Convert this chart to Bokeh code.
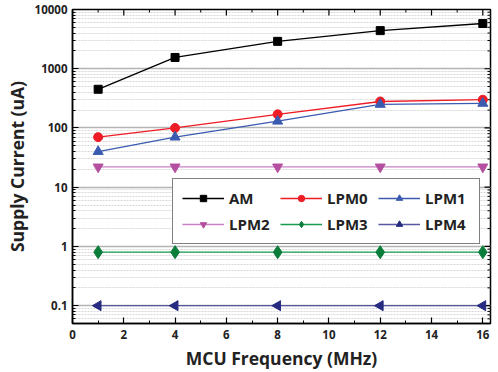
import numpy as np
from bokeh.plotting import figure
from bokeh.models import (Range1d, Legend, LegendItem, LogTicker,
                          SingleIntervalTicker, CustomJSTickFormatter)
from bokeh.embed import file_html
from bokeh.resources import INLINE

freq = [1, 4, 8, 12, 16]
am = [450, 1550, 2900, 4400, 5800]
lpm0 = [70, 100, 170, 280, 300]
lpm1 = [40, 70, 130, 250, 260]
lpm2 = [22, 22, 22, 22, 22]
lpm3 = [0.8, 0.8, 0.8, 0.8, 0.8]
lpm4 = [0.1, 0.1, 0.1, 0.1, 0.1]
x_ticks = [0, 2, 4, 6, 8, 10, 12, 14, 16]
x_minor = [1, 3, 5, 7, 9, 11, 13, 15]
y_ticks = [0.1, 1, 10, 100, 1000, 10000]

FONT = "Open Sans"
X0, X1, Y0, Y1 = 0, 16.3, 0.05, 10000

p = figure(width=498, height=372, output_backend="svg", toolbar_location=None,
           y_axis_type="log", x_range=Range1d(X0, X1), y_range=Range1d(Y0, Y1),
           min_border_left=72, min_border_right=8, min_border_top=9, min_border_bottom=49)
p.background_fill_color = "white"
p.outline_line_color = "black"
p.outline_line_width = 1.5

for ax in [p.xaxis[0], p.yaxis[0]]:
    ax.major_label_text_font = FONT
    ax.major_label_text_font_style = "bold"
    ax.major_label_text_font_size = "11.5px"
    ax.major_label_text_color = "#222222"
    ax.axis_label_text_font = FONT
    ax.axis_label_text_font_style = "bold"
    ax.axis_label_text_font_size = "17.5px"
    ax.axis_label_text_color = "#222222"
    ax.axis_line_color = "black"
    ax.axis_line_width = 1.5
    ax.major_tick_in = 6
    ax.major_tick_out = 0
    ax.minor_tick_in = 3
    ax.minor_tick_out = 0
    ax.major_tick_line_color = "black"
    ax.minor_tick_line_color = "black"
    ax.major_tick_line_width = 1.2

p.xaxis[0].ticker = SingleIntervalTicker(interval=2, num_minor_ticks=2)
p.xaxis[0].axis_label = "MCU Frequency (MHz)"
p.xaxis[0].axis_label_standoff = 4
p.xaxis[0].major_label_standoff = 6
p.yaxis[0].ticker = LogTicker(num_minor_ticks=10)
p.yaxis[0].axis_label = "Supply Current (uA)"
p.yaxis[0].axis_label_standoff = 3
p.yaxis[0].major_label_standoff = 5
p.yaxis[0].formatter = CustomJSTickFormatter(
    code="return tick < 1 ? tick.toFixed(1) : tick.toFixed(0);")

# mirrored inward ticks on the top and right edges (markers clipped by the frame)
p.scatter(x_ticks, [Y1] * len(x_ticks), marker="dash", angle=np.pi / 2, size=12,
          line_color="black", line_width=1.2)
p.scatter(x_minor, [Y1] * len(x_minor), marker="dash", angle=np.pi / 2, size=6,
          line_color="black", line_width=1)
y_minor = [m * d for d in [0.01, 0.1, 1, 10, 100, 1000] for m in range(2, 10)]
y_minor = [v for v in y_minor if Y0 <= v <= Y1]
p.scatter([X1] * len(y_ticks), y_ticks, marker="dash", size=12,
          line_color="black", line_width=1.2)
p.scatter([X1] * len(y_minor), y_minor, marker="dash", size=6,
          line_color="black", line_width=1)

p.xgrid.grid_line_color = None
p.ygrid.grid_line_color = "#b4b4b4"
p.ygrid.grid_line_width = 1.3
p.ygrid.minor_grid_line_color = "#d8d8d8"
p.ygrid.minor_grid_line_dash = "2 1"
p.ygrid.minor_grid_line_width = 1

series = [
    ("AM", am, "black", "black", "square", 0, 8),
    ("LPM0", lpm0, "#ee1c25", "#ee1c25", "circle", 0, 9),
    ("LPM1", lpm1, "#3a5bb0", "#3a5bb0", "triangle", 0, 10),
    ("LPM2", lpm2, "#c882c4", "#b4509f", "inverted_triangle", 0, 10),
    ("LPM3", lpm3, "#1a9a50", "#0b7d3a", "diamond", 0, 13),
    ("LPM4", lpm4, "#5858a0", "#262a80", "triangle", np.pi / 2, 10),
]

items = {}
for name, vals, lc, mc, marker, ang, sz in series:
    r1 = p.line(freq, vals, line_color=lc, line_width=1.3)
    r2 = p.scatter(freq, vals, marker=marker, size=sz, angle=ang,
                   fill_color=mc, line_color=mc)
    items[name] = LegendItem(label=name, renderers=[r1, r2])

# legend fills column by column: order so rows read AM, LPM0, LPM1 / LPM2, LPM3, LPM4
order = ["AM", "LPM2", "LPM0", "LPM3", "LPM1", "LPM4"]
legend = Legend(items=[items[k] for k in order], ncols=3, location=(100, 79),
                label_text_font=FONT, label_text_font_style="bold",
                label_text_font_size="15px", label_text_color="#222222",
                glyph_width=42, glyph_height=16, label_standoff=5, label_width=45,
                spacing=6, padding=9, margin=0,
                border_line_color="black", border_line_width=1.2,
                background_fill_alpha=1.0)
p.add_layout(legend, "center")

open("out.html", "w").write(file_html(p, INLINE))
